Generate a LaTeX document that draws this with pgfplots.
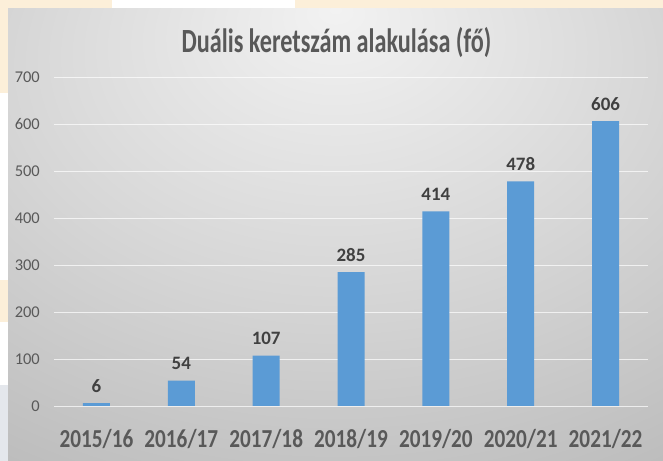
\documentclass[border=0pt]{standalone}
\usepackage{pgfplots}
\pgfplotsset{compat=1.18}
\usepackage{graphicx}
\usepackage{fontspec}
\setmainfont{Carlito}
\definecolor{barblue}{HTML}{5B9BD5}
\definecolor{textgray}{HTML}{595959}
\definecolor{labelgray}{HTML}{404040}
\definecolor{cream}{HTML}{FCEFD9}
\definecolor{bluegray}{HTML}{E4E7EC}
\definecolor{pin}{HTML}{F2F2F2}
\definecolor{pmid}{HTML}{D6D6D6}
\definecolor{pout}{HTML}{B2B2B2}
\definecolor{pfar}{HTML}{A6A6A6}
\pgfdeclareradialshading{panelbg}{\pgfpoint{0bp}{25bp}}{color(0bp)=(pin); color(25bp)=(pmid); color(55bp)=(pout); color(80bp)=(pfar); color(100bp)=(pfar)}
\newcommand\xl[1]{\scalebox{0.82}[1]{#1}}
\begin{document}
\begin{tikzpicture}[x=1bp,y=1bp]
\useasboundingbox (0,0) rectangle (663,461);
\fill[white] (0,0) rectangle (663,461);
\fill[cream] (0,452) rectangle (112,461);
\fill[cream] (295,452) rectangle (663,461);
\fill[cream] (0,368) rectangle (8,452);
\fill[cream] (0,139) rectangle (8,181);
\fill[bluegray] (0,0) rectangle (8,76);
\shade[shading=panelbg] (8,0) rectangle (663,452);
\node[anchor=base, text=textgray, inner sep=0pt, font=\bfseries\fontsize{34}{34}\selectfont] at (336.5,408) {\scalebox{0.715}[1]{Duális keretszám alakulása (fő)}};
\begin{axis}[
  at={(54bp,55bp)}, anchor=south west,
  scale only axis, width=594bp, height=329bp,
  xmin=-0.5, xmax=6.5, ymin=0, ymax=700,
  /pgf/number format/assume math mode=true,
  ytick={0,100,...,700},
  xtick={0,1,2,3,4,5,6},
  xticklabels={\xl{2015/16},\xl{2016/17},\xl{2017/18},\xl{2018/19},\xl{2019/20},\xl{2020/21},\xl{2021/22}},
  axis line style={draw=none},
  major tick length=0pt,
  ymajorgrids,
  grid style={draw=white, opacity=0.7, line width=0.9bp},
  yticklabel style={font=\fontsize{16.5}{16.5}\selectfont, text=textgray, inner sep=0pt, anchor=east, xshift=-14bp},
  xticklabel style={font=\bfseries\fontsize{26}{26}\selectfont, text=textgray, inner sep=0pt, anchor=base, yshift=-42bp},
  ybar, bar width=27bp,
  nodes near coords,
  every node near coord/.append style={font=\bfseries\fontsize{19}{19}\selectfont, text=labelgray, inner sep=0pt, anchor=base, yshift=11bp},
]
\addplot[fill=barblue, draw=none, bar shift=0pt] coordinates {(0,6) (1,54) (2,107) (3,285) (4,414) (5,478) (6,606)};
\end{axis}
\end{tikzpicture}
\end{document}
